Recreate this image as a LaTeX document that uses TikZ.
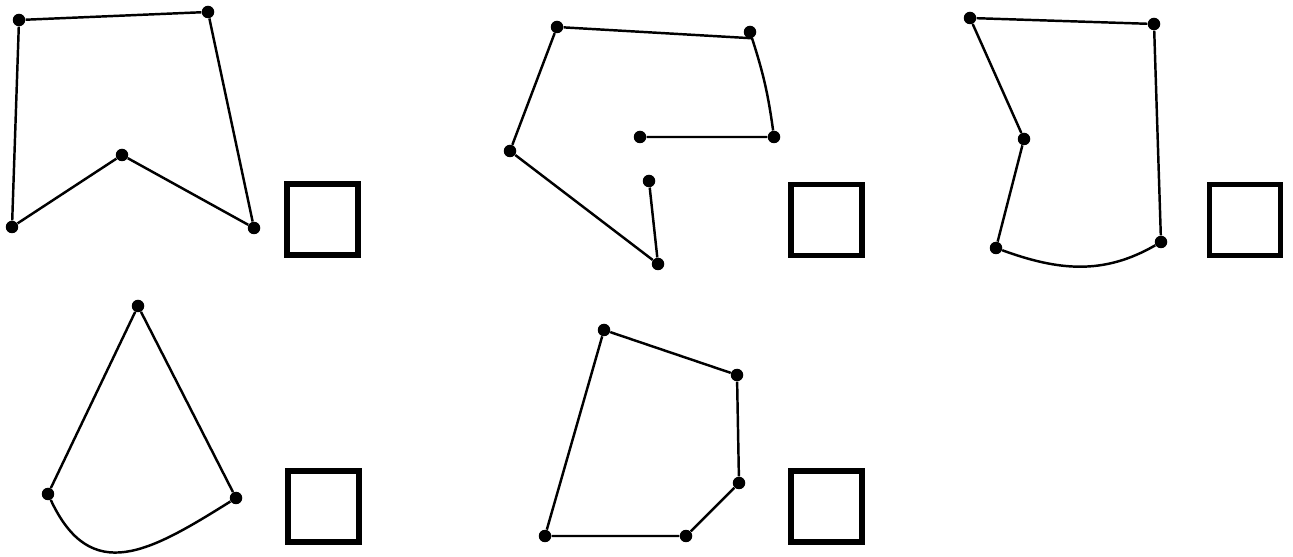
\documentclass[tikz,border=0pt]{standalone}
\usepackage{tikz}
\usetikzlibrary{positioning}

\tikzset{
  dot/.style={circle,fill=black,inner sep=0pt,minimum size=0.25cm},
  edge/.style={line width=1.4pt,line join=round},
  answerbox/.style={draw,line width=2.9pt,minimum size=1.42cm,inner sep=0pt}
}

\begin{document}
\begin{tikzpicture}[x=0.02cm,y=0.02cm]
    \useasboundingbox (0,0) rectangle (1293,557);

    % figure 1
    \foreach \n/\x/\y in {a1/19/537, a2/208/545, a3/254/329, a4/122/402, a5/12/330} {
        \node[dot] (\n) at (\x,\y) {};
    }
    \draw[edge] (a1) -- (a2) -- (a3) -- (a4) -- (a5) -- (a1);
    \node[answerbox] (box1) at (322.5,337.5) {};

    % figure 2
    \foreach \n/\x/\y in {b1/640/420, b2/774/420, b3/750/525, b4/557/530, b5/510/406, b6/658/293, b7/649/376} {
        \node[dot] (\n) at (\x,\y) {};
    }
    \draw[edge] (b1) -- (b2) to[bend right=5] (b3) -- (b4) -- (b5) -- (b6) -- (b7);
    \node[answerbox] (box2) at (826.5,337) {};

    % figure 3
    \foreach \n/\x/\y in {c1/970/539, c2/1154/533, c3/1161/315, c4/996/309, c5/1024/418} {
        \node[dot] (\n) at (\x,\y) {};
    }
    \draw[edge] (c1) -- (c2) -- (c3);
    \draw[edge] (c4) to[out=-20,in=-150] (c3);
    \draw[edge] (c4) -- (c5) -- (c1);
    \node[answerbox] (box3) at (1245,337) {};

    % figure 4
    \foreach \n/\x/\y in {d1/138/251, d2/48/63, d3/236/59} {
        \node[dot] (\n) at (\x,\y) {};
    }
    \draw[edge] (d2) -- (d1) -- (d3);
    \draw[edge] (d2) to[out=-65,in=-148,looseness=1.35] (d3);
    \node[answerbox] (box4) at (323.5,50.5) {};

    % figure 5
    \foreach \n/\x/\y in {e1/604/227, e2/737/182, e3/739/74, e4/686/21, e5/545/21} {
        \node[dot] (\n) at (\x,\y) {};
    }
    \draw[edge] (e1) -- (e2) -- (e3) -- (e4) -- (e5) -- (e1);
    \node[answerbox] (box5) at (826.5,50.5) {};
\end{tikzpicture}
\end{document}
